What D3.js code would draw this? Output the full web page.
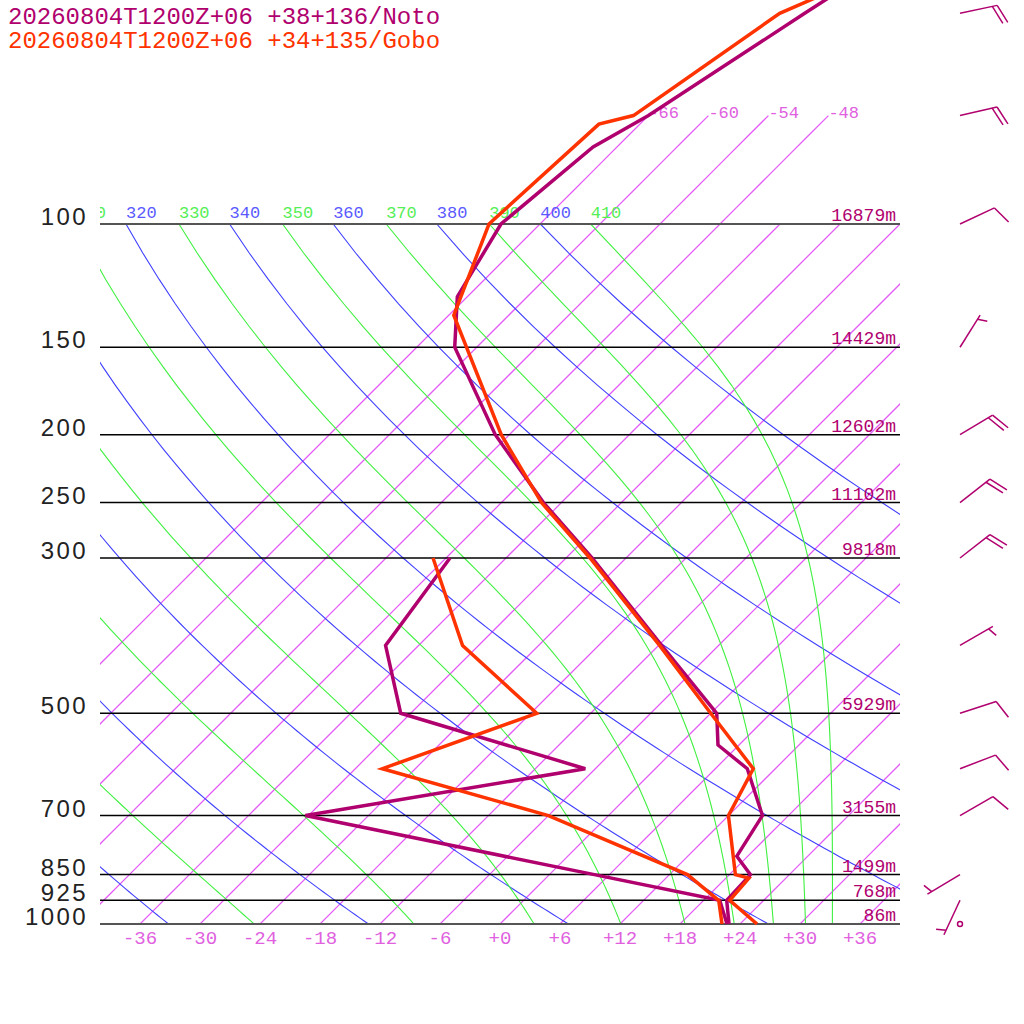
<!DOCTYPE html>
<html>
<head>
<meta charset="utf-8">
<script src="https://cdn.jsdelivr.net/npm/d3@7"></script>
<style>
body { margin: 0; background: #fff; }
svg { display: block; }
</style>
</head>
<body>
<div id="chart"></div>
<script>
// station titles
const titles = ['20260804T1200Z+06 +38+136/Noto', '20260804T1200Z+06 +34+135/Gobo']
const colors = ['#b0006e', '#ff3300']

// Noto sounding (hPa, degC)
const notoTempP = [1000, 925, 850, 800, 700, 600, 555, 500, 400, 300, 250, 200, 150, 127, 100, 77.6, 70, 50, 30]
const notoTemp  = [22.9, 20.3, 20.1, 16.9, 15.4, 9.2, 3.9, 0.6, -11.7, -27.4, -37.8, -49.4, -62.2, -67.0, -69.9, -68.4, -66.0, -60.6, -52.1]
const notoDewP  = [1000, 925, 850, 700, 600, 500, 400, 300]
const notoDew   = [22.7, 19.6, 4.5, -30.3, -7.0, -31.0, -39.3, -41.6]

// Gobo sounding (hPa, degC)
const goboTempP = [1000, 925, 860, 850, 700, 600, 500, 400, 300, 250, 200, 135, 100, 72, 70, 50, 30]
const goboTemp  = [25.7, 20.6, 20.3, 18.6, 12.0, 9.8, 0.0, -11.9, -27.6, -38.0, -48.8, -65.5, -71.1, -70.1, -67.5, -63.1, -42.8]
const goboDewP  = [1000, 925, 850, 700, 600, 500, 400, 300]
const goboDew   = [22.2, 19.5, 13.8, -6.0, -27.3, -17.4, -31.6, -43.3]

// standard levels and Noto heights
const levels  = [100, 150, 200, 250, 300, 500, 700, 850, 925, 1000]
const heights = ['16879m', '14429m', '12602m', '11102m', '9818m', '5929m', '3155m', '1499m', '768m', '86m']

// Noto winds (direction deg, speed kt)
const windP     = [50, 70, 100, 150, 200, 250, 300, 400, 500, 600, 700, 850, 925, 1000]
const windDir   = [78, 77, 65, 32, 59, 52, 52, 60, 72, 69, 60, 239, 205, 0]
const windSpeed = [20, 20, 10, 5, 20, 20, 20, 5, 10, 10, 10, 5, 5, 0]

// background lines
const isotherms    = d3.range(-66, 37, 6)
const tempTicks    = d3.range(-36, 37, 6)
const topIsotherms = [-66, -60, -54, -48]
const thetas  = d3.range(240, 401, 20)   // dry adiabats
const thetaEs = d3.range(250, 411, 20)   // moist adiabats

const ISO = 'rgb(228, 88, 248)'
const W = 1024, H = 1024
const svg = d3.select('#chart').append('svg').attr('width', W).attr('height', H)
    .style('font-family', '"Liberation Mono", monospace')

const y = d3.scaleLog().domain([1000, 100]).range([924, 224])
const xT = d3.scaleLinear().domain([-40, 40]).range([100, 900])
const skewX = (t, p) => xT(t) + (y(1000) - y(p))

svg.append('clipPath').attr('id', 'box').append('rect')
    .attr('x', 100).attr('y', 224).attr('width', 800).attr('height', 700)
svg.append('clipPath').attr('id', 'lab').append('rect')
    .attr('x', 100).attr('y', 190).attr('width', 800).attr('height', 40)

const K = 0.2857
const pSteps = d3.range(1000, 99, -10)

// saturated equivalent potential temperature (Bolton)
function thetaE (tk, p) {
    const es = 6.112 * Math.exp(17.67 * (tk - 273.15) / (tk - 29.65))
    const r = 1000 * 0.622 * es / (p - es)
    return tk * Math.pow(1000 / p, 0.2854 * (1 - 0.00028 * r)) * Math.exp((3.376 / tk - 0.00254) * r * (1 + 0.00081 * r))
}
function moistT (te, p) {
    let lo = 120, hi = 330
    for (let i = 0; i < 50; i++) {
        const mid = (lo + hi) / 2
        if (thetaE(mid, p) > te) hi = mid; else lo = mid
    }
    return (lo + hi) / 2 - 273.15
}
const dryT = (th, p) => th * Math.pow(p / 1000, K) - 273.15

const grid = svg.append('g').attr('clip-path', 'url(#box)')
const line = d3.line()

// isotherms
const isoPath = (t, p0, p1) => line(d3.range(p0, p1 - 1, -50).map(p => [skewX(t, p), y(p)]))
grid.selectAll('.iso').data(isotherms).enter().append('path').attr('class', 'iso')
    .attr('d', t => isoPath(t, 1000, 100))
    .attr('fill', 'none').attr('stroke', ISO).attr('stroke-width', 1.25)

grid.selectAll('.dry').data(thetas).enter().append('path').attr('class', 'dry')
    .attr('d', th => line(pSteps.map(p => [skewX(dryT(th, p), p), y(p)])))
    .attr('fill', 'none').attr('stroke', '#4040ff').attr('stroke-width', 1.1)

grid.selectAll('.moist').data(thetaEs).enter().append('path').attr('class', 'moist')
    .attr('d', te => line(pSteps.map(p => [skewX(moistT(te, p), p), y(p)])))
    .attr('fill', 'none').attr('stroke', '#40f040').attr('stroke-width', 1.1)

// isotherms continued above 100 hPa
svg.selectAll('.isoTop').data(topIsotherms).enter().append('path').attr('class', 'isoTop')
    .attr('d', t => line(d3.range(100, 69, -5).map(p => [skewX(t, p), y(p)])))
    .attr('fill', 'none').attr('stroke', ISO).attr('stroke-width', 1.25)
svg.selectAll('.isoTopLab').data(topIsotherms).enter().append('text').attr('class', 'isoTopLab')
    .attr('x', t => skewX(t, 70)).attr('y', y(70) + 2)
    .attr('font-size', 17).attr('fill', '#e060e0')
    .text(t => t)

// theta labels along 100 hPa
const labs = svg.append('g').attr('clip-path', 'url(#lab)')
    .attr('font-size', 17)
const thLabs = thetas.filter(th => skewX(dryT(th, 100), 100) > 60)
const teLabs = thetaEs.filter(te => skewX(moistT(te, 100), 100) > 60)
labs.selectAll('.thLab').data(thLabs).enter().append('text').attr('class', 'thLab')
    .attr('x', th => skewX(dryT(th, 100), 100)).attr('y', 218)
    .attr('fill', '#5a5aff').text(th => th)
labs.selectAll('.teLab').data(teLabs).enter().append('text').attr('class', 'teLab')
    .attr('x', te => skewX(moistT(te, 100), 100)).attr('y', 218)
    .attr('fill', '#55ee55').text(te => te)

// pressure lines and labels
svg.selectAll('.pLine').data(levels).enter().append('line').attr('class', 'pLine')
    .attr('x1', 100).attr('x2', 900).attr('y1', p => y(p)).attr('y2', p => y(p))
    .attr('stroke', p => (p === 100 || p === 1000) ? '#555' : '#000')
    .attr('stroke-width', p => (p === 100 || p === 1000) ? 2 : 1.5)
svg.selectAll('.pLab').data(levels).enter().append('text').attr('class', 'pLab')
    .attr('x', 88).attr('y', p => y(p) + 1)
    .attr('text-anchor', 'end')
    .style('font-family', '"Liberation Sans", sans-serif')
    .attr('font-size', 24).attr('letter-spacing', 2.4).attr('fill', '#222')
    .text(p => p)

// heights
svg.selectAll('.hLab').data(levels).enter().append('text').attr('class', 'hLab')
    .attr('x', 896).attr('y', p => y(p) - 3)
    .attr('text-anchor', 'end').attr('font-size', 18).attr('fill', '#b0006e')
    .text((p, i) => heights[i])

// temperature ticks
svg.selectAll('.tLab').data(tempTicks).enter().append('text').attr('class', 'tLab')
    .attr('x', t => xT(t)).attr('y', 944)
    .attr('text-anchor', 'middle').attr('font-size', 19).attr('fill', '#e060e0')
    .text(t => (t < 0 ? '' : '+') + t)

// soundings
const prof = (ps, ts) => ps.map((p, i) => [skewX(ts[i], p), y(p)])
const series = [
    { pts: prof(notoDewP, notoDew), c: colors[0] },
    { pts: prof(goboDewP, goboDew), c: colors[1] },
    { pts: prof(notoTempP, notoTemp), c: colors[0] },
    { pts: prof(goboTempP, goboTemp), c: colors[1] }
]
svg.selectAll('.snd').data(series).enter().append('path').attr('class', 'snd')
    .attr('d', d => line(d.pts))
    .attr('fill', 'none').attr('stroke', d => d.c).attr('stroke-width', 3.5)

// wind barbs
const bx = 960, staff = 38, step = 5
const barbs = svg.append('g').attr('stroke', colors[0]).attr('stroke-width', 1.5).attr('fill', 'none')
windP.forEach((p, i) => {
    const y0 = y(p), spd = windSpeed[i]
    if (spd === 0) {
        barbs.append('circle').attr('cx', bx).attr('cy', y0).attr('r', 2.5)
        return
    }
    const a = windDir[i] * Math.PI / 180
    const ux = Math.sin(a), uy = -Math.cos(a)
    const b = a + 70 * Math.PI / 180
    const fx = Math.sin(b), fy = -Math.cos(b)
    barbs.append('line').attr('x1', bx).attr('y1', y0)
        .attr('x2', bx + ux * staff).attr('y2', y0 + uy * staff)
    const full = Math.floor(spd / 10), half = (spd % 10) >= 5 ? 1 : 0
    let pos = staff
    if (full === 0) pos -= step
    for (let k = 0; k < full + half; k++) {
        const len = k < full ? 20 : 10
        const sx = bx + ux * pos, sy = y0 + uy * pos
        barbs.append('line').attr('x1', sx).attr('y1', sy)
            .attr('x2', sx + fx * len).attr('y2', sy + fy * len)
        pos -= step
    }
})

// titles
svg.selectAll('.title').data(titles).enter().append('text').attr('class', 'title')
    .attr('x', 8).attr('y', (d, i) => 24 + i * 24)
    .attr('font-size', 24).attr('fill', (d, i) => colors[i])
    .text(d => d)
</script>
</body>
</html>
